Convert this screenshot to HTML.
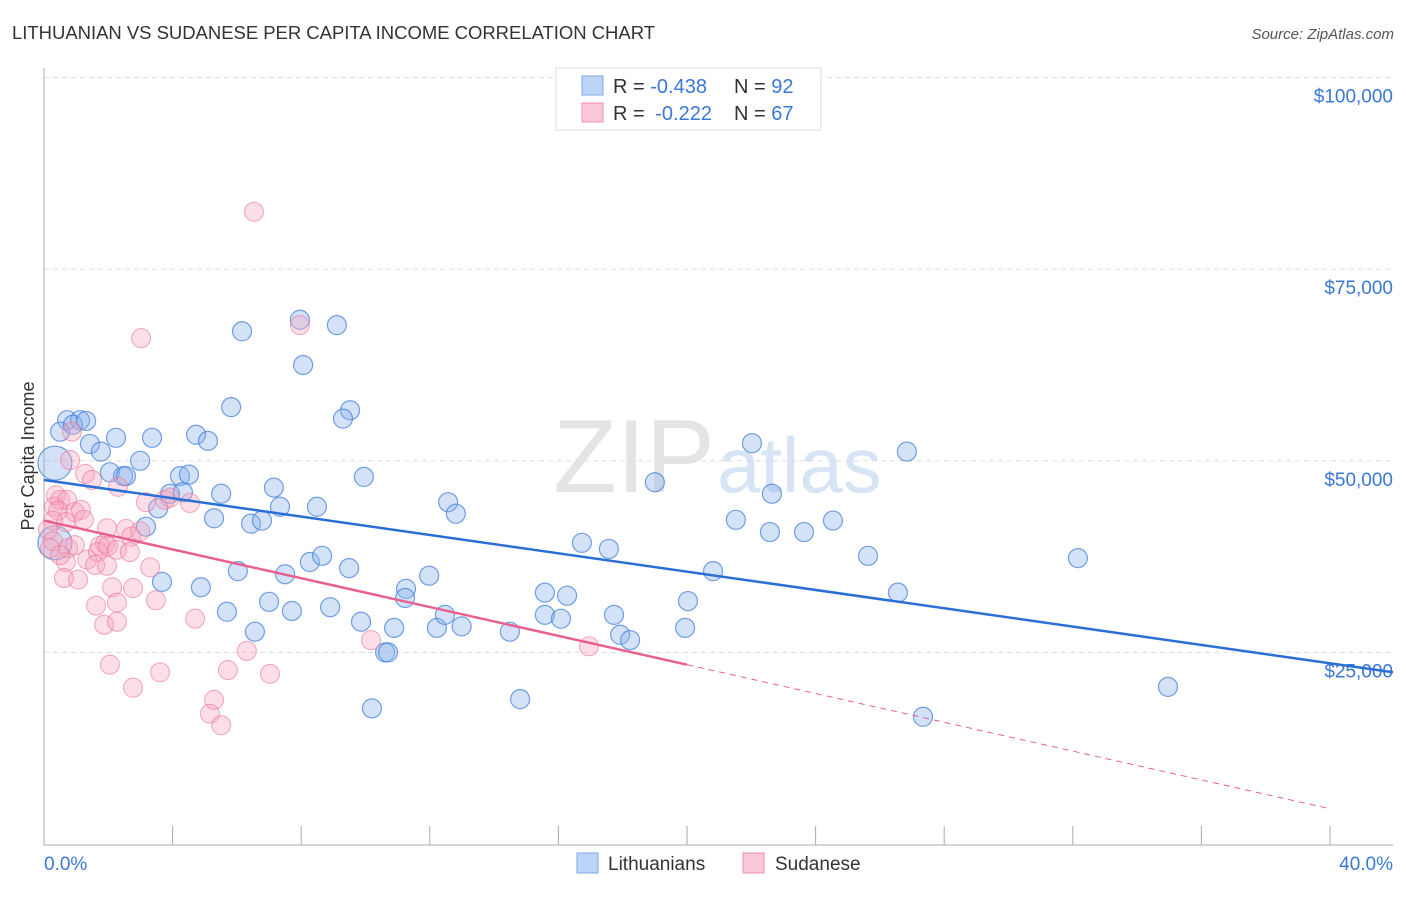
<!DOCTYPE html>
<html><head><meta charset="utf-8"><style>
body{margin:0;background:#fff;font-family:"Liberation Sans",sans-serif;}
svg text{font-family:"Liberation Sans",sans-serif;}
</style></head><body>
<svg id="c" width="1406" height="892" xmlns="http://www.w3.org/2000/svg">
<text x="12" y="39" font-size="18.5" fill="#333" textLength="643">LITHUANIAN VS SUDANESE PER CAPITA INCOME CORRELATION CHART</text>
<text x="1394" y="39" font-size="15" fill="#555" font-style="italic" text-anchor="end">Source: ZipAtlas.com</text>
<text x="715" y="492" font-size="104" fill="#e4e4e4" text-anchor="end" font-family="Liberation Serif">ZIP</text>
<text x="717" y="492" font-size="78" fill="#d6e4f5">atlas</text>
<g id="grid"></g>
<g id="axes"></g>
<g id="pts"></g>
<g id="lines"></g>
<text transform="translate(34,456) rotate(-90)" font-size="18" fill="#333" text-anchor="middle">Per Capita Income</text>
<g>
<rect x="556" y="68" width="265" height="62" fill="#fff" stroke="#ddd"/>
<rect x="582" y="76" width="21" height="19" fill="#bcd4f6" stroke="#7aa7e8"/>
<rect x="582" y="103" width="21" height="19" fill="#fcc8d8" stroke="#f08fae"/>
<text x="613" y="93" font-size="20" fill="#333">R = <tspan fill="#3a78d8">-0.438</tspan><tspan x="734">N = </tspan><tspan fill="#3a78d8">92</tspan></text>
<text x="613" y="120" font-size="20" fill="#333">R = <tspan fill="#3a78d8" dx="5">-0.222</tspan><tspan x="734">N = </tspan><tspan fill="#3a78d8">67</tspan></text>
</g>
<g>
<rect x="577" y="853" width="21" height="20" fill="#bcd4f6" stroke="#7aa7e8"/>
<text x="608" y="870" font-size="19" fill="#333">Lithuanians</text>
<rect x="743" y="853" width="21" height="20" fill="#fcc8d8" stroke="#f08fae"/>
<text x="775" y="870" font-size="19" fill="#333">Sudanese</text>
</g>
</svg>
<script>
const xTicks=[0,4,8,12,16,20,24,28,32,36,40];
const yTicks=[25000,50000,75000,100000];
const yTickLabels=["$25,000","$50,000","$75,000","$100,000"];
const blueX=[0.72,1.12,0.50,0.90,1.31,0.34,1.43,1.77,2.24,3.36,2.99,2.05,2.46,2.55,4.73,5.10,4.23,4.51,3.92,4.32,3.55,3.17,3.67,5.51,5.29,5.82,6.16,7.96,9.11,8.06,9.52,9.30,9.95,7.15,7.34,6.44,6.78,8.49,6.03,5.69,4.88,6.56,7.50,7.00,7.71,8.27,8.65,9.49,8.90,9.86,10.61,10.70,10.20,10.89,11.26,11.23,11.98,12.22,12.47,12.57,12.81,12.99,14.49,14.81,15.58,15.58,16.08,16.27,16.73,17.57,17.73,17.92,18.23,19.00,19.94,20.03,20.81,21.52,22.02,22.58,22.64,23.64,24.54,25.63,26.56,26.84,27.34,32.16,34.96,0.34];
const blueY=[55.3,55.3,53.8,54.7,55.2,49.7,52.2,51.2,53.0,53.0,50.0,48.5,48.0,48.0,53.4,52.6,48.0,48.2,45.7,45.9,43.8,41.4,34.2,45.7,42.5,57.0,66.9,68.4,67.7,62.5,56.6,55.5,47.9,46.5,44.0,41.8,42.2,44.0,35.6,30.3,33.5,27.7,35.2,31.6,30.4,36.8,37.6,36.0,30.9,29.0,25.0,25.0,17.7,28.2,33.3,32.1,35.0,28.2,29.9,44.6,43.1,28.4,27.7,18.9,32.8,29.9,29.4,32.4,39.3,38.5,29.9,27.3,26.6,47.2,28.2,31.7,35.6,42.3,52.3,40.7,45.7,40.7,42.2,37.6,32.8,51.2,16.6,37.3,20.5,39.3];
const pinkX=[6.53,3.02,7.96,0.87,0.81,1.28,1.49,2.30,0.37,0.50,0.72,0.31,0.44,0.96,1.15,0.68,0.28,0.12,1.24,1.96,0.28,0.75,0.96,1.74,1.90,1.34,1.68,1.99,2.55,2.71,3.17,3.76,4.54,3.92,2.99,2.27,2.67,0.68,0.62,1.06,1.59,1.96,3.30,2.12,2.77,1.62,2.27,3.48,1.87,2.27,4.70,2.05,2.77,3.61,5.72,5.29,5.16,5.51,6.31,7.03,10.17,16.95,0.19,0.50];
const pinkY=[82.5,66.0,67.7,53.8,50.1,48.3,47.5,46.6,45.5,44.9,44.9,44.0,43.5,43.3,43.6,42.0,42.2,41.0,42.3,41.2,39.5,38.6,39.0,38.9,39.2,37.1,38.1,38.9,41.1,40.1,44.6,44.9,44.5,45.2,40.8,38.4,38.1,36.8,34.7,34.5,36.4,36.3,36.1,33.5,33.4,31.1,31.5,31.8,28.6,29.0,29.4,23.4,20.4,22.4,22.7,18.8,17.0,15.5,25.2,22.2,26.6,25.8,38.6,37.7];
const blueTrend=[47.5,-0.598];
const pinkTrend=[42.2,-0.94];
const NS="http://www.w3.org/2000/svg";
const X=p=>44+p*32.15;
const Y=v=>844-v/25000*191.6;
const YK=k=>Y(k*1000);
function mk(t,a,p){const e=document.createElementNS(NS,t);for(const k in a)e.setAttribute(k,a[k]);p.appendChild(e);return e;}
const grid=document.getElementById('grid'),axes=document.getElementById('axes'),pts=document.getElementById('pts'),lines=document.getElementById('lines');
yTicks.forEach((v,i)=>{
 const l=mk('line',{x1:44,x2:1393,y1:Y(v),y2:Y(v),stroke:'#ddd','stroke-dasharray':'5,4'},grid);
 
 
 const t=mk('text',{x:1393,y:Y(v)+25,'font-size':19,fill:'#3a78d8','text-anchor':'end'},grid);
 t.textContent=yTickLabels[i];
 
 
});
const ya=mk('line',{x1:44,x2:44,y1:68,y2:845,stroke:'#aaa'},axes);


const xa=mk('line',{x1:44,x2:1393,y1:845,y2:845,stroke:'#aaa'},axes);


xTicks.forEach(v=>{
 const l=mk('line',{x1:X(v),x2:X(v),y1:826,y2:845,stroke:'#aaa'},axes);
 
 
});
const x0=mk('text',{x:44,y:870,'font-size':19,fill:'#3a78d8'},axes);x0.textContent='0.0%';


const x1=mk('text',{x:1393,y:870,'font-size':19,fill:'#3a78d8','text-anchor':'end'},axes);x1.textContent='40.0%';


blueX.forEach((x,i)=>{
 const big=x<0.4;
 const c=mk('circle',{cx:X(x),cy:YK(blueY[i]),r:big?17:9.5,fill:'rgba(140,180,235,0.38)',stroke:'rgba(70,130,220,0.75)','stroke-width':1.2},pts);
 
 
});
pinkX.forEach((x,i)=>{
 const c=mk('circle',{cx:X(x),cy:YK(pinkY[i]),r:9.5,fill:'rgba(245,160,185,0.35)',stroke:'rgba(235,120,155,0.65)','stroke-width':1},pts);
 
 
});
const bl=mk('line',{x1:X(0),y1:YK(blueTrend[0]),x2:X(41.96),y2:YK(blueTrend[0]+blueTrend[1]*41.96),stroke:'#2a6fd6','stroke-width':2.5},lines);


const pl=mk('line',{x1:X(0),y1:YK(pinkTrend[0]),x2:X(20),y2:YK(pinkTrend[0]+pinkTrend[1]*20),stroke:'#e8608f','stroke-width':2.5},lines);


const pd=mk('line',{x1:X(20),y1:YK(pinkTrend[0]+pinkTrend[1]*20),x2:X(40),y2:YK(pinkTrend[0]+pinkTrend[1]*40),stroke:'#e8608f','stroke-width':1,'stroke-dasharray':'6,5'},lines);


</script>
</body></html>
